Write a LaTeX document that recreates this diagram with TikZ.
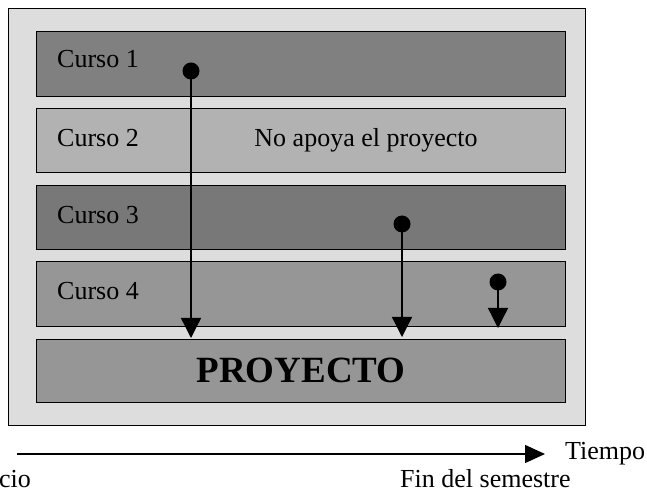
\documentclass[tikz,border=0pt]{standalone}
\usepackage{fontspec}
\setmainfont{Liberation Serif}
\usetikzlibrary{arrows.meta}
\definecolor{outerbg}{HTML}{DDDDDD}
\definecolor{cA}{HTML}{808080}
\definecolor{cB}{HTML}{B2B2B2}
\definecolor{cC}{HTML}{787878}
\definecolor{cD}{HTML}{969696}
\tikzset{
  lane/.style={draw=black, line width=1.3pt, minimum width=529pt, inner sep=0pt, anchor=south west},
  lbl/.style={font=\fontsize{26}{30}\selectfont, inner sep=0pt, anchor=base west},
  dotm/.style={circle, fill=black, inner sep=0pt, minimum size=17pt},
  flow/.style={line width=1.3pt, -{Triangle[length=20pt,width=20pt]}},
}
\begin{document}
\begin{tikzpicture}[x=1pt,y=1pt]
\useasboundingbox (0,0) rectangle (647,490);
\fill[white] (0,0) rectangle (647,490);
% outer frame
\node[draw=black, fill=outerbg, line width=1.3pt, minimum width=577pt, minimum height=417pt, inner sep=0pt, anchor=south west] (frame) at (8,64) {};
% lanes
\node[lane, fill=cA, minimum height=65pt] (c1) at (36,393) {};
\node[lane, fill=cB, minimum height=64pt] (c2) at (36,317) {};
\node[lane, fill=cC, minimum height=64pt] (c3) at (36,240) {};
\node[lane, fill=cD, minimum height=65pt] (c4) at (36,163) {};
\node[lane, fill=cD, minimum height=63pt] (p) at (36,87) {};
% labels
\node[lbl] (t1) at (57,422) {Curso 1};
\node[lbl] (t2) at (57,343) {Curso 2};
\node[lbl, anchor=base] (t2b) at (366,343) {No apoya el proyecto};
\node[lbl] (t3) at (57,266) {Curso 3};
\node[lbl] (t4) at (57,190) {Curso 4};
\node[font=\fontsize{37}{42}\selectfont\bfseries, inner sep=0pt] (pt) at (p.center) {PROYECTO};
% dots
\node[dotm] (d1) at (191,419) {};
\node[dotm] (d2) at (402,266) {};
\node[dotm] (d3) at (498,208) {};
\coordinate (e1) at (191,152);
\coordinate (e2) at (402,153);
\coordinate (e3) at (498,162);
\draw[flow] (d1.center) -- (e1);
\draw[flow] (d2.center) -- (e2);
\draw[flow] (d3.center) -- (e3);
% time axis
\coordinate (a0) at (17,36);
\coordinate (a1) at (545,36);
\draw[line width=1.3pt, -{Triangle[length=20pt,width=18pt]}] (a0) -- (a1);
\node[lbl] (tiempo) at (565,31) {Tiempo};
\node[lbl] (fin) at (400,3) {Fin del semestre};
\node[lbl, anchor=base east] (ini) at (31,3) {Inicio};
\end{tikzpicture}
\end{document}
